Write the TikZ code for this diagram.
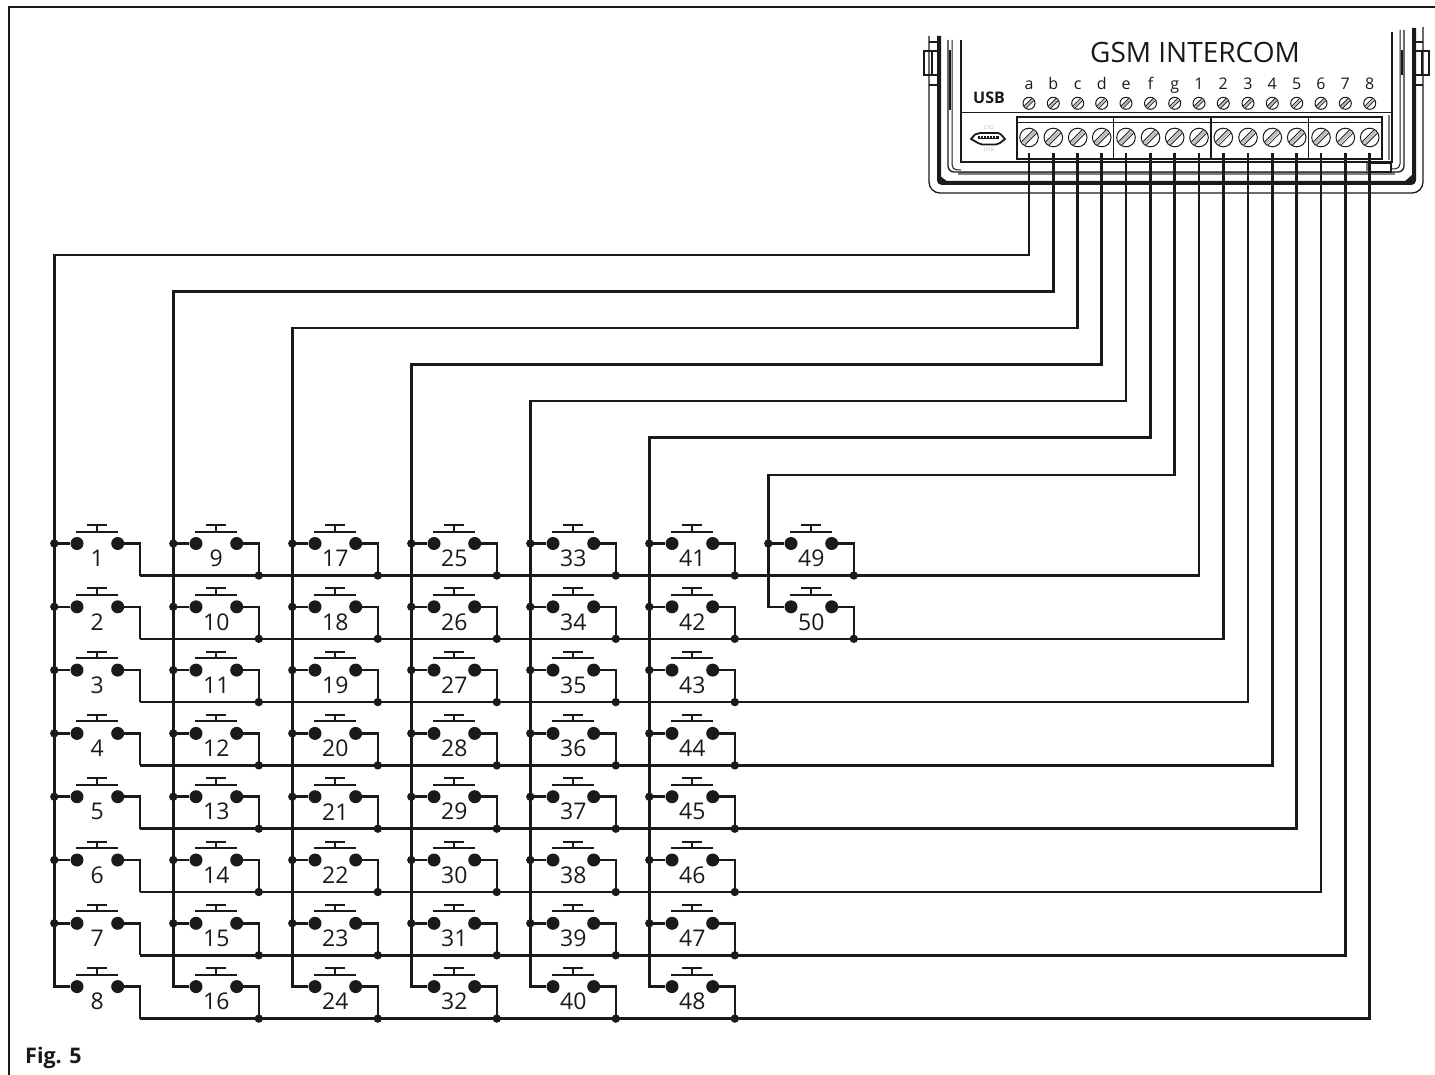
\documentclass[tikz,border=0pt]{standalone}
\usepackage{fontspec}
\setmainfont{Open Sans}
\definecolor{ink}{HTML}{1A1A1A}
\tikzset{
  x=1pt,y=-1pt,
  wire/.style={draw=ink,line width=2.6pt,line join=miter},
  ball/.style={circle,fill=ink,draw=none,minimum size=13pt,inner sep=0pt},
  junction/.style={circle,fill=ink,draw=none,minimum size=8.4pt,inner sep=0pt},
  swnum/.style={font=\fontsize{23}{23}\selectfont,text=ink,inner sep=0pt},
  termlabel/.style={font=\fontsize{16}{16}\selectfont,text=ink,inner sep=0pt},
  case/.style={draw=ink,line width=1.3pt},
  plate/.style={draw=ink,line width=2pt},
  screw/.pic={
    \fill[white] (0,0) circle (#1);
    \draw[ink,line width=1pt] (0,0) circle (#1);
    \fill[gray!55] (-0.72*#1,0.55*#1) -- (0.55*#1,-0.72*#1) -- (0.72*#1,-0.55*#1) -- (-0.55*#1,0.72*#1) -- cycle;
    \draw[ink,line width=0.8pt] (-0.8*#1,0.45*#1) -- (0.45*#1,-0.8*#1);
    \draw[ink,line width=0.8pt] (-0.45*#1,0.8*#1) -- (0.8*#1,-0.45*#1);
  },
}
\begin{document}
\begin{tikzpicture}
\useasboundingbox (0,0) rectangle (1435,1075);
% outer border (top and left only)
\draw[draw=ink,line width=1.3pt] (9,1075) -- (9,7) -- (1435,7);

% device case
\draw[case,rounded corners=11pt] (929,36) -- (929,193) -- (1423,193) -- (1423,27);
\draw[draw=ink,line width=4pt,rounded corners=3pt] (939,36) -- (939,183) -- (1414,183) -- (1414,28);
\fill[ink] (940,176) -- (948,182) -- (940,182) -- cycle;
\fill[ink] (1412,175) -- (1404,182) -- (1412,182) -- cycle;
% left hinge
\draw[case] (924,51) rectangle (940,75);
\draw[case] (932,51) -- (932,75);
\draw[case] (929,42) -- (939,42);
\draw[case] (929,85) -- (939,85);
% right hinge
\draw[case] (1414,51) rectangle (1429,75);
\draw[case] (1422,51) -- (1422,75);
\draw[case] (1414,42) -- (1423,42);
\draw[case] (1414,85) -- (1423,85);
% inner walls
\draw[draw=gray,line width=3pt] (958,174) -- (1395,174);
\draw[case,rounded corners=6pt] (948,40) -- (948,172) -- (1404,172) -- (1404,30);
\draw[case,line width=1pt,rounded corners=5pt] (952,40) -- (952,170) -- (961,170);
\draw[draw=ink,line width=2pt] (950,50) -- (950,110);
\draw[draw=ink,line width=2pt] (1402,50) -- (1402,75);
\draw[case,line width=1pt,rounded corners=5pt] (1400,30) -- (1400,169) -- (1391,169);
\draw[case] (961,40) -- (961,162) -- (1392,162) -- (1392,32);
\draw[case,line width=1pt] (961,113) -- (1392,113);
\draw[draw=gray,line width=2.6pt] (1389,115) -- (1389,160);

% terminal block
\draw[case,fill=white] (1017,117) rectangle (1382,159);
\draw[case,line width=1pt] (1017,123) -- (1382,123);
\foreach \dx in {1113.7,1211,1308.7} \draw[case] (\dx,117) -- (\dx,159);
\draw[case,fill=white] (1367,163) rectangle (1391,172);
\draw[draw=gray,line width=2pt] (1367,163) -- (1367,172);

% micro USB
\draw[draw=ink,line width=1.8pt,line join=round] (971,139) -- (975,134.5) -- (980,133) -- (998,133) -- (1001,134.5) -- (1005,139) -- (1000,143) -- (996,144.5) -- (982,144.5) -- (978,143) -- cycle;
\fill[ink] (978,136.5) rectangle (999,139.5);
\foreach \k in {0,...,5} \fill[white] (980+3*\k,136.5) rectangle (980.7+3*\k,138.5);
\node[font=\fontsize{5.5}{5.5}\selectfont,text=gray!50,inner sep=0pt] (cntext) at (989,128) {CN2};
\node[font=\fontsize{5.5}{5.5}\selectfont,text=gray!50,inner sep=0pt] (usbtext) at (989,150) {USB};

% texts
\node[font=\fontsize{28}{28}\selectfont,text=ink,inner sep=0pt] (title) at (1195,52) {GSM INTERCOM};
\node[font=\fontsize{16}{16}\selectfont\bfseries,text=ink,inner sep=0pt] (usblabel) at (989,98) {USB};
\node[font=\fontsize{21.5}{21.5}\selectfont\bfseries,text=ink,inner sep=0pt,anchor=west] (figlabel) at (25,1058) {Fig. 5};

% terminals
\foreach \n/\tx/\lab in {a/1029/a,b/1053.3/b,c/1077.7/c,d/1101.7/d,e/1126/e,f/1150.5/f,g/1174.7/g,
   1/1199/1,2/1223.3/2,3/1248/3,4/1272.3/4,5/1296.7/5,6/1321/6,7/1345.3/7,8/1369.7/8} {
  \node[termlabel,anchor=base] (lab\n) at (\tx,90) {\lab};
  \pic at (\tx,103.3) {screw=6};
  \pic at (\tx,137.5) {screw=9.3};
  \coordinate (t\n) at (\tx,153);
}

% switches
\foreach \c/\rows in {0/8,1/8,2/8,3/8,4/8,5/8,6/2} {
  \foreach \r in {1,...,\rows} {
    \pgfmathtruncatemacro{\n}{8*\c+\r}
    \pgfmathsetmacro{\sx}{54.3+119*\c}
    \pgfmathsetmacro{\sy}{543.5+63.3*(\r-1)}
    \coordinate (J\n) at (\sx,\sy);
    \node[ball] (L\n) at (\sx+22.7,\sy) {};
    \node[ball] (R\n) at (\sx+63.4,\sy) {};
    \coordinate (B\n) at (\sx+85.5,\sy+32);
    \coordinate (P\n) at (\sx+43,\sy-12);
    \coordinate (Q\n) at (\sx+43,\sy-18.5);
    \draw[wire] (J\n) -- (L\n);
    \draw[wire] (R\n) -| (B\n);
    \draw[plate] ([xshift=-21pt]P\n) -- ([xshift=21pt]P\n);
    \draw[plate] (P\n) -- (Q\n);
    \draw[plate] ([xshift=-10pt]Q\n) -- ([xshift=10pt]Q\n);
    \node[swnum] (N\n) at (\sx+43,\sy+15) {\n};
  }
}

% column wires
\foreach \c/\t/\wy/\last in {0/a/255/8,1/b/291.5/16,2/c/328/24,3/d/364.5/32,4/e/401/40,5/f/437.5/48,6/g/475/50} {
  \pgfmathsetmacro{\sx}{54.3+119*\c}
  \coordinate (top\c) at (\sx,\wy);
  \draw[wire] (t\t) |- (top\c) -- (J\last) -- (L\last);
}
% junctions on columns
\foreach \c/\rows in {0/7,1/7,2/7,3/7,4/7,5/7,6/1} {
  \foreach \r in {1,...,\rows} {
    \pgfmathtruncatemacro{\n}{8*\c+\r}
    \node[junction] at (J\n) {};
  }
}
% row wires
\foreach \r/\t in {1/1,2/2,3/3,4/4,5/5,6/6,7/7,8/8} {
  \draw[wire] (B\r) -| (t\t);
}
% junctions on rows
\foreach \c/\rows in {1/8,2/8,3/8,4/8,5/8,6/2} {
  \foreach \r in {1,...,\rows} {
    \pgfmathtruncatemacro{\n}{8*\c+\r}
    \node[junction] at (B\n) {};
  }
}
\end{tikzpicture}
\end{document}
